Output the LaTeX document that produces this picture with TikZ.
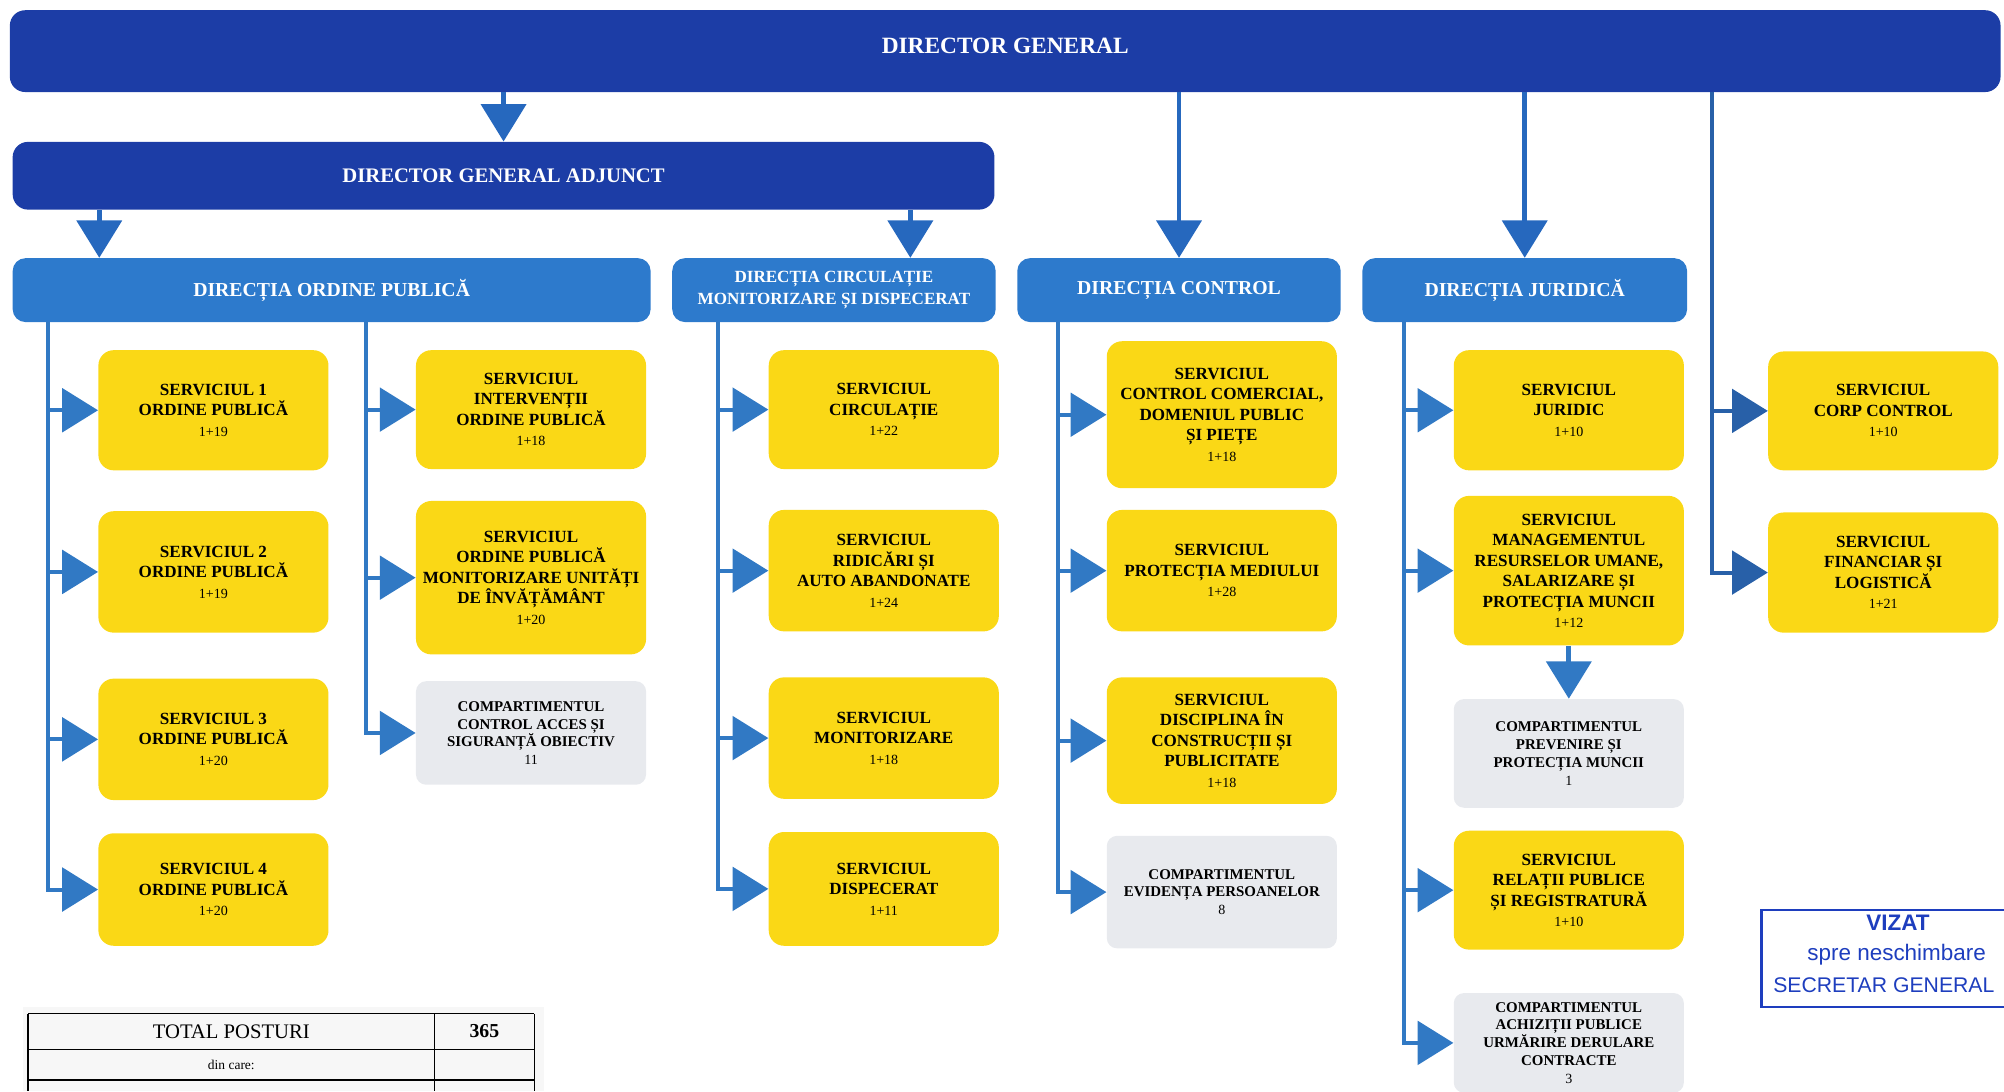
\documentclass[tikz,border=0pt]{standalone}
\usepackage{fontspec}
\setmainfont{Liberation Serif}
\setsansfont{Liberation Sans}
\usepackage{tikz}
\usetikzlibrary{arrows.meta}
\definecolor{dgblue}{RGB}{28,61,166}
\definecolor{dirblue}{RGB}{45,122,204}
\definecolor{dropblue}{RGB}{38,104,190}
\definecolor{linkblue}{RGB}{49,121,196}
\definecolor{finblue}{RGB}{40,96,168}
\definecolor{servyellow}{RGB}{250,216,22}
\definecolor{compgray}{RGB}{232,234,238}
\definecolor{stampblue}{RGB}{30,62,190}
\newcommand{\posturi}[1]{{\fontsize{7.8}{11.4}\selectfont\mdseries #1}}

\begin{document}
\begin{tikzpicture}[x=0.025cm, y=-0.025cm,
		dgbar/.style={rectangle, rounded corners=0.3cm, fill=dgblue, text=white, font=\bfseries\fontsize{13}{15}\selectfont},
		dirbox/.style={rectangle, rounded corners=0.25cm, fill=dirblue, text=white, align=center, minimum height=1.25cm, inner sep=1pt, font=\bfseries\fontsize{11}{13}\selectfont},
		servbox/.style={rectangle, rounded corners=0.3cm, fill=servyellow, align=center, inner sep=1pt, minimum width=4.5cm, font=\bfseries\fontsize{9.5}{11.4}\selectfont},
		compbox/.style={servbox, fill=compgray, rounded corners=0.2cm, font=\bfseries\fontsize{8.3}{9.9}\selectfont},
		drop/.style={draw=dropblue, line width=2.6pt, -{Triangle[length=0.73cm, width=0.875cm]}},
		branch/.style={draw=linkblue, line width=2.2pt, -{Triangle[length=0.7cm, width=0.85cm]}},
		stamp/.style={text=stampblue, font=\sffamily\fontsize{12.5}{15}\selectfont}]
		\useasboundingbox (0,0) rectangle (1568,854);
		\clip (0,0) rectangle (1568,854);

		\draw (786.5,40) node[dgbar, minimum width=38.93cm, minimum height=1.6cm, text depth=0.2cm](dg){DIRECTOR GENERAL};
		\draw (394,137.5) node[dgbar, font=\bfseries\fontsize{11.5}{14}\selectfont, minimum width=19.2cm, minimum height=1.325cm](dga){DIRECTOR GENERAL ADJUNCT};

		\draw (259.5,227) node[dirbox, minimum width=12.475cm](dop){DIRECȚIA ORDINE PUBLICĂ};
		\draw (652.5,227) node[dirbox, minimum width=6.325cm, font=\bfseries\fontsize{9.5}{12}\selectfont](cmd){DIRECȚIA CIRCULAȚIE\\MONITORIZARE ȘI DISPECERAT};
		\draw (922.5,227) node[dirbox, minimum width=6.325cm](ctl){DIRECȚIA CONTROL};
		\draw (1193,227) node[dirbox, minimum width=6.35cm](jur){DIRECȚIA JURIDICĂ};

		\coordinate (opin) at ([xshift=1.7cm]dop.north west);
		\coordinate (cmdin) at ([xshift=-1.675cm]cmd.north east);
		\draw[drop] (dg.south -| dga.north) -- (dga.north);
		\draw[drop] (dga.south -| opin) -- (opin);
		\draw[drop] (dga.south -| cmdin) -- (cmdin);
		\draw[drop] (dg.south -| ctl.north) -- (ctl.north);
		\draw[drop] (dg.south -| jur.north) -- (jur.north);

		\draw (167,321) node[servbox, minimum height=2.35cm](s1){SERVICIUL 1\\ORDINE PUBLICĂ\\\posturi{1+19}};
		\draw (167,447.5) node[servbox, minimum height=2.375cm](s2){SERVICIUL 2\\ORDINE PUBLICĂ\\\posturi{1+19}};
		\draw (167,578.5) node[servbox, minimum height=2.375cm](s3){SERVICIUL 3\\ORDINE PUBLICĂ\\\posturi{1+20}};
		\draw (167,696) node[servbox, minimum height=2.2cm](s4){SERVICIUL 4\\ORDINE PUBLICĂ\\\posturi{1+20}};

		\draw (415.5,320.5) node[servbox, minimum height=2.325cm](siop){SERVICIUL\\INTERVENȚII\\ORDINE PUBLICĂ\\\posturi{1+18}};
		\draw (415.5,452) node[servbox, minimum height=3cm](smui){SERVICIUL\\ORDINE PUBLICĂ\\MONITORIZARE UNITĂȚI\\DE ÎNVĂȚĂMÂNT\\\posturi{1+20}};
		\draw (415.5,573.5) node[compbox, minimum height=2.025cm](caso){COMPARTIMENTUL\\CONTROL ACCES ȘI\\SIGURANȚĂ OBIECTIV\\\posturi{11}};

		\draw (691.5,320.5) node[servbox, minimum height=2.325cm](scir){SERVICIUL\\CIRCULAȚIE\\\posturi{1+22}};
		\draw (691.5,446.5) node[servbox, minimum height=2.375cm](sraa){SERVICIUL\\RIDICĂRI ȘI\\AUTO ABANDONATE\\\posturi{1+24}};
		\draw (691.5,577.5) node[servbox, minimum height=2.375cm](smon){SERVICIUL\\MONITORIZARE\\\posturi{1+18}};
		\draw (691.5,695.5) node[servbox, minimum height=2.225cm](sdis){SERVICIUL\\DISPECERAT\\\posturi{1+11}};

		\draw (956,324.5) node[servbox, minimum height=2.875cm](sccp){SERVICIUL\\CONTROL COMERCIAL,\\DOMENIUL PUBLIC\\ȘI PIEȚE\\\posturi{1+18}};
		\draw (956,446.5) node[servbox, minimum height=2.375cm](spm){SERVICIUL\\PROTECȚIA MEDIULUI\\\posturi{1+28}};
		\draw (956,579.5) node[servbox, minimum height=2.475cm](sdcp){SERVICIUL\\DISCIPLINA ÎN\\CONSTRUCȚII ȘI\\PUBLICITATE\\\posturi{1+18}};
		\draw (956,698) node[compbox, minimum height=2.2cm](cep){COMPARTIMENTUL\\EVIDENȚA PERSOANELOR\\\posturi{8}};

		\draw (1227.5,321) node[servbox, minimum height=2.35cm](sjur){SERVICIUL\\JURIDIC\\\posturi{1+10}};
		\draw (1227.5,446.5) node[servbox, minimum height=2.925cm](smru){SERVICIUL\\MANAGEMENTUL\\RESURSELOR UMANE,\\SALARIZARE ȘI\\PROTECȚIA MUNCII\\\posturi{1+12}};
		\draw (1227.5,589.5) node[compbox, minimum height=2.125cm](cppm){COMPARTIMENTUL\\PREVENIRE ȘI\\PROTECȚIA MUNCII\\\posturi{1}};
		\draw (1227.5,696.5) node[servbox, minimum height=2.325cm](srpr){SERVICIUL\\RELAȚII PUBLICE\\ȘI REGISTRATURĂ\\\posturi{1+10}};
		\draw (1227.5,816) node[compbox, minimum height=1.95cm](capu){COMPARTIMENTUL\\ACHIZIȚII PUBLICE\\URMĂRIRE DERULARE\\CONTRACTE\\\posturi{3}};

		\draw (1473.5,321.5) node[servbox, minimum height=2.325cm](scc){SERVICIUL\\CORP CONTROL\\\posturi{1+10}};
		\draw (1473.5,448) node[servbox, minimum height=2.35cm](sfl){SERVICIUL\\FINANCIAR ȘI\\LOGISTICĂ\\\posturi{1+21}};

		\coordinate (opa) at ([xshift=0.7cm]dop.south west);
		\coordinate (opb) at ([xshift=6.925cm]dop.south west);
		\coordinate (cma) at ([xshift=0.9cm]cmd.south west);
		\coordinate (cta) at ([xshift=0.8cm]ctl.south west);
		\coordinate (jua) at ([xshift=0.825cm]jur.south west);
		\coordinate (fin) at ([xshift=33.3cm]dg.south west);

		\draw[branch] (opa) |- (s4.west);
		\foreach \s in {s1,s2,s3} \draw[branch] (opa |- \s.west) -- (\s.west);
		\draw[branch] (opb) |- (caso.west);
		\foreach \s in {siop,smui} \draw[branch] (opb |- \s.west) -- (\s.west);
		\draw[branch] (cma) |- (sdis.west);
		\foreach \s in {scir,sraa,smon} \draw[branch] (cma |- \s.west) -- (\s.west);
		\draw[branch] (cta) |- (cep.west);
		\foreach \s in {sccp,spm,sdcp} \draw[branch] (cta |- \s.west) -- (\s.west);
		\draw[branch] (jua) |- (capu.west);
		\foreach \s in {sjur,smru,srpr} \draw[branch] (jua |- \s.west) -- (\s.west);
		\draw[branch, draw=finblue] (fin) |- (sfl.west);
		\draw[branch, draw=finblue] (fin |- scc.west) -- (scc.west);
		\draw[drop, draw=linkblue] (smru.south) -- (cppm.north);

		\fill[black!3] (18,788) rectangle (426,854);
		\draw[line width=0.8pt] (22,793) -- (418,793) (22,821) -- (418,821) (22,845) -- (418,845);
		\draw[line width=0.8pt] (22,793) -- (22,854) (340,793) -- (340,854) (418,793) -- (418,854);
		\draw (181,807) node[font=\fontsize{11.5}{13}\selectfont](total){TOTAL POSTURI};
		\draw (379,807) node[font=\bfseries\fontsize{11}{13}\selectfont](nrtotal){365};
		\draw (181,833) node[font=\fontsize{7.5}{9}\selectfont](dincare){din care:};

		\draw[stampblue, line width=1.5pt] (1378,712) rectangle (1590,788);
		\draw (1485,722) node[stamp, font=\sffamily\bfseries\fontsize{12.5}{14}\selectfont](vizat){VIZAT};
		\draw (1484,747) node[stamp](spre){spre neschimbare};
		\draw (1474,771) node[stamp, font=\sffamily\fontsize{11.8}{14}\selectfont, inner sep=0pt](secr){SECRETAR GENERAL};

	\end{tikzpicture}
\end{document}
